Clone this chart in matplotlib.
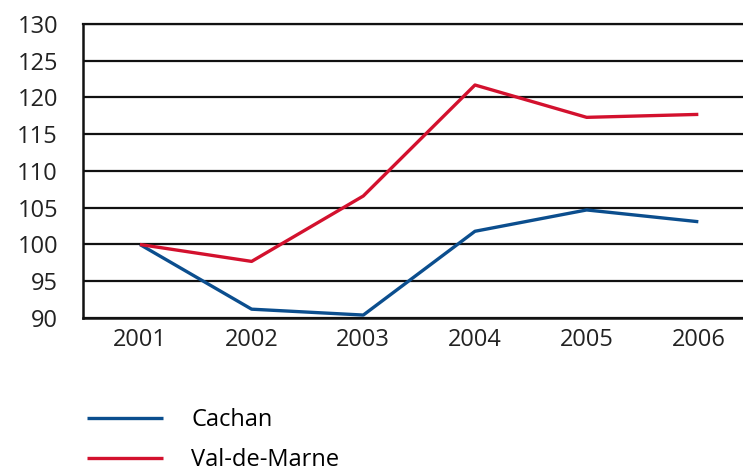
import matplotlib.pyplot as plt

years = ['2001', '2002', '2003', '2004', '2005', '2006']
cachan = [100, 91.2, 90.4, 101.8, 104.7, 103.1]
val_de_marne = [100, 97.7, 106.6, 121.7, 117.3, 117.7]
y_ticks = [90, 95, 100, 105, 110, 115, 120, 125, 130]

plt.rcParams['font.family'] = ['Open Sans', 'DejaVu Sans']

fig = plt.figure(figsize=(7.43, 4.73), dpi=100)
ax = fig.add_axes([83 / 743, 1 - 318 / 473, 1 - 83 / 743, 294 / 473])

x = range(len(years))
p1, = ax.plot(x, cachan, color='#0b4e8e', lw=2.4, solid_capstyle='butt')
p2, = ax.plot(x, val_de_marne, color='#d3112e', lw=2.4, solid_capstyle='butt')

ax.set_ylim(90, 130)
ax.set_xlim(-0.51, 5.4)
ax.set_yticks(y_ticks)
ax.set_xticks(list(x))
ax.set_xticklabels(years)
ax.tick_params(length=0, labelsize=17, colors='#222222')
ax.tick_params(axis='y', pad=18)
ax.tick_params(axis='x', pad=7)
ax.grid(axis='y', color='#111111', lw=1.6)
ax.set_axisbelow(True)
ax.spines['right'].set_visible(False)
ax.spines['top'].set_color('#111111')
ax.spines['top'].set_linewidth(1.6)
for s in ['left', 'bottom']:
    ax.spines[s].set_color('#111111')
    ax.spines[s].set_linewidth(1.8)

# legend under the plot, second entry sits near the bottom edge
fig.legend([p1, p2], ['Cachan', 'Val-de-Marne'], loc='upper left',
           bbox_to_anchor=(66 / 743, 1 - 387 / 473), frameon=False,
           fontsize=17, handlelength=3.2, handletextpad=1.2, labelspacing=0.68)

fig.savefig('out.png', dpi=100)
